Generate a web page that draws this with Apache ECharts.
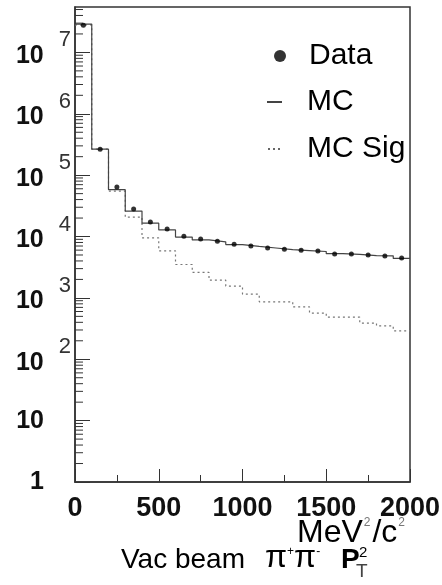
<!DOCTYPE html>
<html>
<head>
<meta charset="utf-8">
<script src="https://cdn.jsdelivr.net/npm/echarts@6/dist/echarts.min.js"></script>
<style>
html,body{margin:0;padding:0;background:#fff;}
#c{width:442px;height:585px;}
</style>
</head>
<body>
<div id="c"></div>
<script>
// ---- data ----
const binLow = [0,100,200,300,400,500,600,700,800,900,1000,1100,1200,1300,1400,1500,1600,1700,1800,1900];
const binHigh = 2000;
const dataVals = [2.77e7,2.65e5,6.4e4,2.8e4,1.72e4,1.32e4,1.01e4,9.1e3,8.4e3,7.5e3,7.0e3,6.5e3,6.2e3,6.0e3,5.8e3,5.2e3,5.2e3,5.0e3,4.8e3,4.45e3];
const mcVals   = [2.9e7,2.65e5,5.8e4,2.6e4,1.65e4,1.28e4,9.8e3,8.8e3,8.2e3,7.4e3,6.9e3,6.5e3,6.1e3,5.9e3,5.7e3,5.25e3,5.1e3,4.9e3,4.85e3,4.4e3];
const sigVals  = [2.8e7,2.65e5,5.5e4,2.07e4,9.5e3,5.85e3,3.5e3,2.6e3,1.95e3,1.56e3,1.15e3,864,864,716,565,487,487,389,351,291];
const yTickLabels = ['1','10','10^2','10^3','10^4','10^5','10^6','10^7'];
const xTickLabels = ['0','500','1000','1500','2000'];
const yMax = Math.pow(10, 7.74);

const binW = binLow[1] - binLow[0];
function histPoints(vals){
  const pts = binLow.map((x,i)=>[x, vals[i]]);
  pts.push([binHigh, vals[vals.length-1]]);
  return pts;
}
const dataPoints = binLow.map((x,i)=>[x + binW/2, dataVals[i]]);
// minor log ticks (2..9 per decade)
const minorTicks = [];
for (let e = 0; e < yTickLabels.length; e++) {
  for (let m = 2; m <= 9; m++) {
    const v = m * Math.pow(10, e);
    if (v < yMax) minorTicks.push([0, v]);
  }
}

const FONT = 'Liberation Sans, Arial, Helvetica, sans-serif';
const chart = echarts.init(document.getElementById('c'), null, {renderer:'canvas'});
chart.setOption({
  animation: false,
  backgroundColor: '#fff',
  grid: {left:75, top:7, right:32, bottom:103, show:true, borderColor:'#333', borderWidth:1.5, containLabel:false, outerBoundsMode:'none'},
  title: [
    {text:'MeV{s|2}/c{s|2}', left:297, top:517, padding:0,
     textStyle:{fontFamily:FONT, fontSize:32, lineHeight:32, fontWeight:'normal', color:'#000',
       rich:{s:{fontFamily:FONT, fontSize:12, lineHeight:12, color:'#777', verticalAlign:'top', padding:[0,2,0,1]}}}},
    {text:'Vac beam', left:121, top:546, padding:0,
     textStyle:{fontFamily:FONT, fontSize:28, lineHeight:28, fontWeight:'normal', color:'#000'}},
    {text:'{p|π}{s|+}{p|π}{s|-}', left:265, top:546, padding:0,
     textStyle:{fontFamily:FONT, fontSize:28, lineHeight:28, fontWeight:'normal', color:'#000',
       rich:{p:{fontFamily:FONT, fontSize:32, lineHeight:28, color:'#000', verticalAlign:'bottom'},
             s:{fontFamily:FONT, fontSize:12, lineHeight:12, color:'#000', verticalAlign:'top'}}}},
    {text:'P', left:341, top:546, padding:0,
     textStyle:{fontFamily:FONT, fontSize:28, lineHeight:28, fontWeight:'bold', color:'#000'}},
    {text:'2', left:359, top:545, padding:0,
     textStyle:{fontFamily:FONT, fontSize:15, lineHeight:15, fontWeight:'normal', color:'#000'}},
    {text:'T', left:356, top:562, padding:0,
     textStyle:{fontFamily:FONT, fontSize:19, lineHeight:19, fontWeight:'normal', color:'#444'}}
  ],
  legend: [
    {data:[{name:'Data', icon:'circle'}], left:274, top:41, padding:0, orient:'vertical', selectedMode:false,
     itemWidth:12, itemHeight:12, itemStyle:{color:'#000'},
     textStyle:{fontFamily:FONT, fontSize:30, color:'#000', padding:[0,0,0,18]}},
    {data:[{name:'MC', icon:'rect'}], left:267, top:87, padding:0, orient:'vertical', selectedMode:false,
     itemWidth:15, itemHeight:2, itemStyle:{color:'#444'},
     textStyle:{fontFamily:FONT, fontSize:30, color:'#000', padding:[0,0,0,20]}},
    {data:[{name:'MC Sig', icon:'path://M0,0h2v2h-2z M5,0h2v2h-2z M10,0h2v2h-2z'}], left:268, top:134, padding:0, orient:'vertical', selectedMode:false,
     itemWidth:12, itemHeight:2, itemStyle:{color:'#666'},
     textStyle:{fontFamily:FONT, fontSize:30, color:'#000', padding:[0,0,0,22]}}
  ],
  xAxis: {
    type:'value', min:0, max:2000, interval:500,
    axisLine:{show:true, lineStyle:{color:'#333', width:1.5}},
    axisTick:{show:true, inside:true, length:13, lineStyle:{color:'#333', width:1}},
    minorTick:{show:true, splitNumber:2, length:7, lineStyle:{color:'#333', width:1}},
    splitLine:{show:false},
    axisLabel:{show:true, margin:13, fontFamily:FONT, fontSize:27, fontWeight:'bold', color:'#111',
      showMinLabel:true, showMaxLabel:true, hideOverlap:false,
      formatter:(v)=>{ const i = Math.round(v/500); return xTickLabels[i] !== undefined ? xTickLabels[i] : ''; }}
  },
  yAxis: {
    type:'log', logBase:10, min:1, max:yMax, interval:1,
    axisLine:{show:true, lineStyle:{color:'#333', width:1.5}},
    axisTick:{show:true, inside:true, length:15, lineStyle:{color:'#333', width:1}},
    splitLine:{show:false},
    axisLabel:{show:true, margin:4, showMinLabel:true, showMaxLabel:false, hideOverlap:false,
      formatter:(v)=>{
        const e = Math.round(Math.log10(v));
        const s = yTickLabels[e];
        if (s === undefined || Math.abs(Math.log10(v) - e) > 0.01) return '';
        if (s.indexOf('^') >= 0) { const p = s.split('^'); return '{b|' + p[0] + '}{e|' + p[1] + '}'; }
        return '{b|' + s + '}{sp| }';
      },
      rich:{
        b:{fontFamily:FONT, fontSize:25, lineHeight:25, fontWeight:'bold', color:'#111', verticalAlign:'bottom'},
        e:{fontFamily:FONT, fontSize:22, lineHeight:32, fontWeight:'normal', color:'#333', verticalAlign:'bottom', padding:[0,0,17,15]},
        sp:{fontFamily:FONT, fontSize:22, lineHeight:22, width:27, verticalAlign:'bottom'}
      }}
  },
  series: [
    {name:'MC', type:'line', step:'end', data:histPoints(mcVals), showSymbol:false, symbol:'none',
     lineStyle:{color:'#444', width:1.2}, itemStyle:{color:'#444'}, z:3},
    {name:'MC Sig', type:'line', step:'end', data:histPoints(sigVals), showSymbol:false, symbol:'none',
     lineStyle:{color:'#777', width:1.2, type:[2,3]}, itemStyle:{color:'#666'}, z:2},
    {name:'Data', type:'scatter', data:dataPoints, symbol:'circle', symbolSize:5,
     itemStyle:{color:'#000'}, z:5},
    {name:'yMinorTicks', type:'custom', data:minorTicks, silent:true, z:4,
     renderItem:(params, api)=>{
       const p = api.coord([api.value(0), api.value(1)]);
       return {type:'line', shape:{x1:p[0], y1:p[1], x2:p[0]+8, y2:p[1]}, style:{stroke:'#333', lineWidth:1}};
     }}
  ]
});
</script>
</body>
</html>
